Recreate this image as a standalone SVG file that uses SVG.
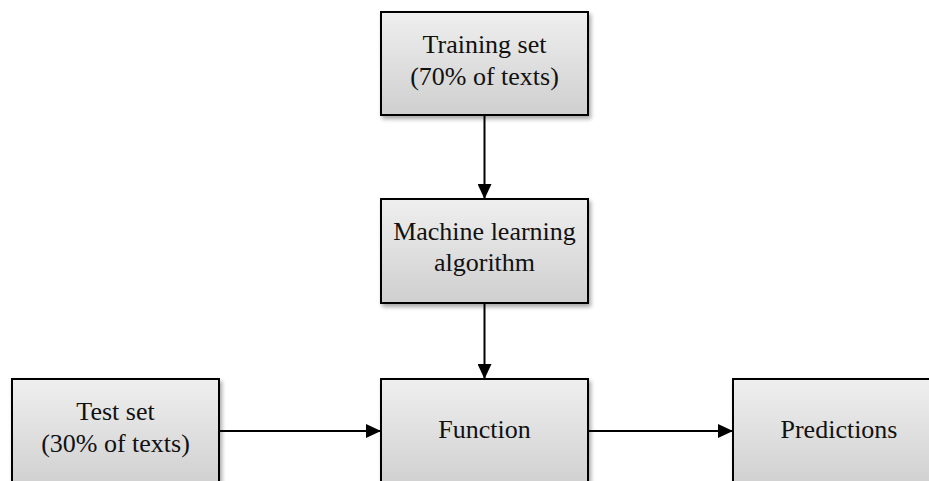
<svg xmlns="http://www.w3.org/2000/svg" width="929" height="481" viewBox="0 0 929 481">
<defs>
<linearGradient id="g" x1="0" y1="0" x2="0" y2="1">
<stop offset="0" stop-color="#efefef"/>
<stop offset="1" stop-color="#cfcfcf"/>
</linearGradient>
<filter id="sh" x="-10%" y="-10%" width="130%" height="130%">
<feGaussianBlur in="SourceAlpha" stdDeviation="2"/>
<feOffset dx="2" dy="3" result="b"/>
<feComponentTransfer><feFuncA type="linear" slope="0.35"/></feComponentTransfer>
<feMerge><feMergeNode/><feMergeNode in="SourceGraphic"/></feMerge>
</filter>
<marker id="ah" markerWidth="15" markerHeight="14" viewBox="0 0 15 14" refX="15" refY="7" orient="auto" markerUnits="userSpaceOnUse">
<path d="M0,0 L15,7 L0,14 Z" fill="#000"/>
</marker>
</defs>
<style>
.box{fill:url(#g);stroke:#000;stroke-width:2;filter:url(#sh)}
.t{font-family:"Liberation Serif","Times New Roman",serif;font-size:26px;fill:#111;text-anchor:middle}
.c{stroke:#000;stroke-width:2;fill:none;marker-end:url(#ah)}
</style>
<rect width="929" height="481" fill="#fff"/>
<g id="connectors">
<line class="c" x1="484.5" y1="115" x2="484.5" y2="199"/>
<line class="c" x1="484.5" y1="303" x2="484.5" y2="379"/>
<line class="c" x1="219" y1="431" x2="381" y2="431"/>
<line class="c" x1="588" y1="431" x2="733" y2="431"/>
</g>
<g id="training">
<rect class="box" x="381" y="12" width="207" height="103"/>
<text class="t" x="484.5" y="53">Training set</text>
<text class="t" x="484.5" y="85">(70% of texts)</text>
</g>
<g id="ml">
<rect class="box" x="381" y="199" width="207" height="104"/>
<text class="t" x="484.5" y="240">Machine learning</text>
<text class="t" x="484.5" y="271">algorithm</text>
</g>
<g id="test">
<rect class="box" x="12" y="379" width="207" height="110"/>
<text class="t" x="115.5" y="420">Test set</text>
<text class="t" x="115.5" y="452">(30% of texts)</text>
</g>
<g id="function">
<rect class="box" x="381" y="379" width="207" height="110"/>
<text class="t" x="484.5" y="438">Function</text>
</g>
<g id="predictions">
<rect class="box" x="733" y="379" width="210" height="110"/>
<text class="t" x="839" y="438">Predictions</text>
</g>
</svg>
